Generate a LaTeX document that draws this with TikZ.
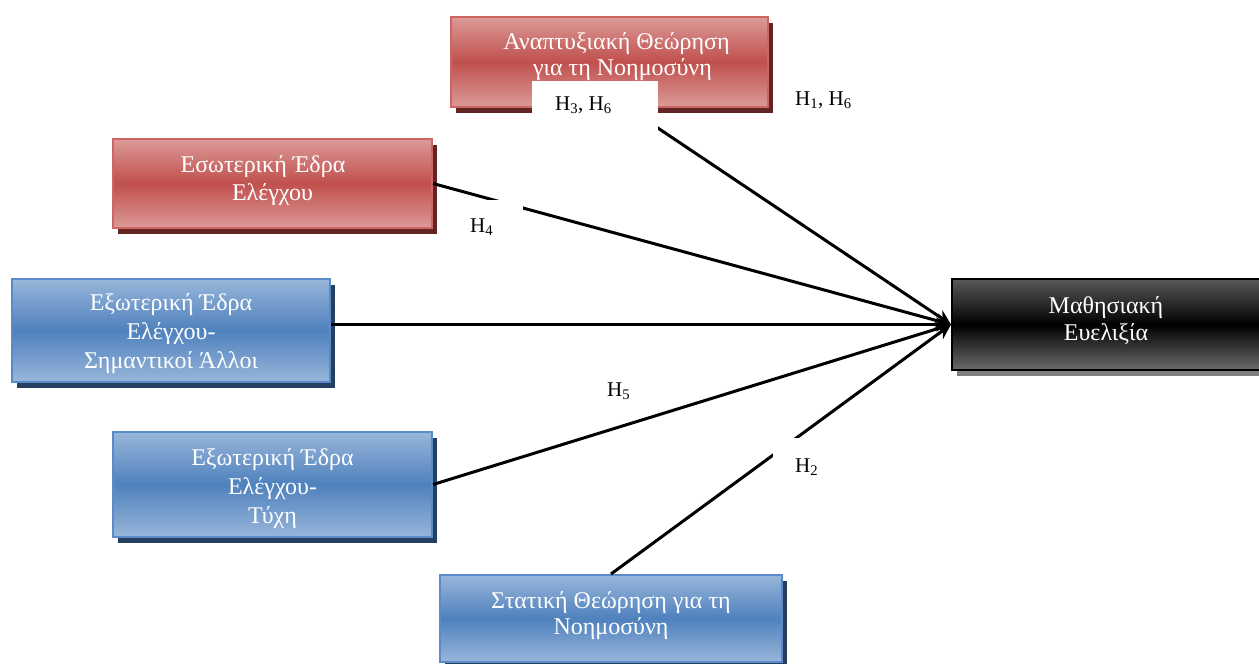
\documentclass[tikz,border=0pt]{standalone}
\usepackage{fontspec}
\setmainfont{Liberation Serif}
\usetikzlibrary{shadows,arrows.meta}
\definecolor{redmid}{HTML}{C0504D}
\definecolor{redlight}{HTML}{DB9A98}
\definecolor{redborder}{HTML}{CD6663}
\definecolor{redshadow}{HTML}{632523}
\definecolor{bluemid}{HTML}{4F81BD}
\definecolor{bluelight}{HTML}{98B6DA}
\definecolor{blueborder}{HTML}{5A8AC8}
\definecolor{blueshadow}{HTML}{243F60}
\definecolor{greytop}{HTML}{5A5A5A}
\definecolor{greybot}{HTML}{6C6C6C}
\definecolor{greyshadow}{HTML}{808080}
\begin{document}
\begin{tikzpicture}[x=1pt,y=-1pt,
  box/.style={rectangle, line width=2pt, text=white, align=center,
    font=\fontsize{24}{27}\selectfont, inner sep=0pt},
  redbox/.style={box, draw=redborder, top color=redlight, bottom color=redlight, middle color=redmid,
    drop shadow={shadow xshift=5pt, shadow yshift=-6pt, fill=redshadow, opacity=1}},
  bluebox/.style={box, draw=blueborder, top color=bluelight, bottom color=bluelight, middle color=bluemid,
    drop shadow={shadow xshift=5pt, shadow yshift=-6pt, fill=blueshadow, opacity=1}},
  blackbox/.style={box, draw=black, top color=greytop, bottom color=greybot, middle color=black,
    drop shadow={shadow xshift=5pt, shadow yshift=-6pt, fill=greyshadow, opacity=1}},
  conn/.style={line width=3pt, -{Stealth[length=15pt,width=14pt]}},
  cover/.style={fill=white},
  hlabel/.style={anchor=base west, inner sep=0pt, font=\fontsize{21}{24}\selectfont},
]
\useasboundingbox (0,0) rectangle (1259,664);

% boxes (text box baseline = last line; text height/depth place that line)
\node[redbox, minimum width=317pt, minimum height=90pt, font=\fontsize{24}{26}\selectfont,
      text height=50pt, text depth=23pt] (dev) at (609.5,62)
  {\hspace*{14pt}Αναπτυξιακή Θεώρηση\\\hspace*{26pt}για τη Νοημοσύνη};
\node[redbox, minimum width=319pt, minimum height=89pt, font=\fontsize{24}{28}\selectfont,
      text height=50pt, text depth=16pt] (int) at (272.5,183.5)
  {\hspace*{-19pt}Εσωτερική Έδρα\\Ελέγχου};
\node[bluebox, minimum width=318pt, minimum height=103pt, font=\fontsize{24}{29}\selectfont,
      text height=80pt, text depth=4pt] (ext1) at (171,330.5)
  {Εξωτερική Έδρα\\Ελέγχου-\\Σημαντικοί Άλλοι};
\node[bluebox, minimum width=319pt, minimum height=105pt, font=\fontsize{24}{29}\selectfont,
      text height=80pt, text depth=3pt] (ext2) at (272.5,484.5)
  {Εξωτερική Έδρα\\Ελέγχου-\\Τύχη};
\node[bluebox, minimum width=342pt, minimum height=87pt, font=\fontsize{24}{26}\selectfont,
      text height=50pt, text depth=19pt] (stat) at (611,618.5)
  {Στατική Θεώρηση για τη\\Νοημοσύνη};
\node[blackbox, minimum width=312pt, minimum height=91pt,
      text height=50pt, text depth=18pt] (mf) at (1108,324.5)
  {\hspace*{-4pt}Μαθησιακή\\\hspace*{-4pt}Ευελιξία};

% connectors
\coordinate (devout) at (628,108);
\draw[conn] (devout) -- (mf.west);
\draw[conn] (int.east) -- (mf.west);
\draw[conn] (ext1.east |- mf.west) -- (mf.west);
\draw[conn] (ext2.east) -- (mf.west);
\draw[conn] (stat.north) -- (mf.west);

% white label backgrounds
\fill[cover] (532,81) rectangle (658,130);
\fill[cover] (455,200) rectangle (523,245);
\fill[cover] (590,368) rectangle (659,413);
\fill[cover] (773,438) rectangle (840,490);

% labels
\node[hlabel] (h36) at (555,110) {H\textsubscript{3}, H\textsubscript{6}};
\node[hlabel] (h16) at (795,105) {H\textsubscript{1}, H\textsubscript{6}};
\node[hlabel] (h4) at (470,232) {H\textsubscript{4}};
\node[hlabel] (h5) at (607,396) {H\textsubscript{5}};
\node[hlabel] (h2) at (795,472) {H\textsubscript{2}};
\end{tikzpicture}
\end{document}
